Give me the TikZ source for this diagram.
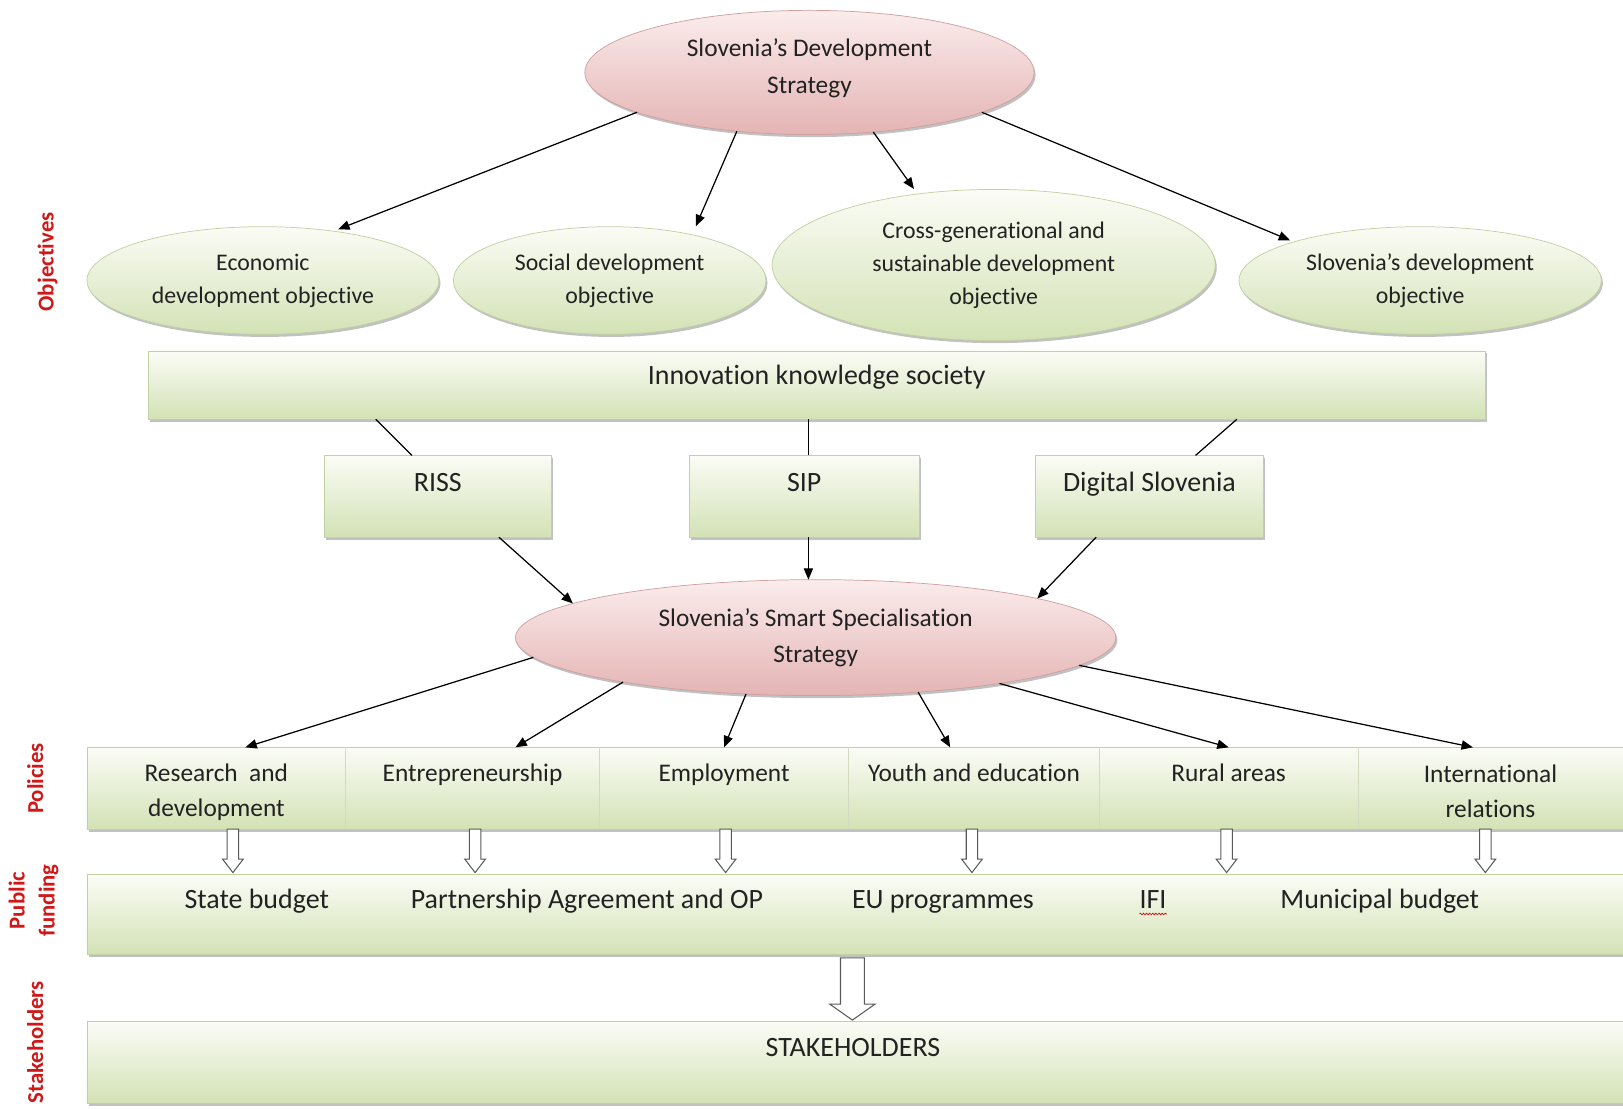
\documentclass[tikz,border=0pt]{standalone}
\usepackage{fontspec}
\setmainfont{Carlito}[Ligatures={NoCommon}]
\usetikzlibrary{calc,shadows,shapes.geometric,arrows.meta,decorations.pathmorphing}
\definecolor{gtop}{HTML}{FBFCF6}
\definecolor{gbot}{HTML}{D3E2B5}
\definecolor{gline}{HTML}{C2D0A2}
\definecolor{gdiv}{HTML}{D2DAC0}
\definecolor{ptop}{HTML}{FBECEC}
\definecolor{pbot}{HTML}{E4B4B4}
\definecolor{pline}{HTML}{CFA0A0}
\definecolor{txtc}{HTML}{222222}
\definecolor{labred}{HTML}{D01818}
\begin{document}
\begin{tikzpicture}[x=1pt,y=-1pt,
  shad/.style={drop shadow={shadow xshift=1.5pt,shadow yshift=-2.5pt,opacity=0.35,fill=black!70}},
  gell/.style={ellipse, draw=gline, line width=0.7pt, top color=gtop, bottom color=gbot, inner sep=0pt, outer sep=0pt, shad, align=center, text=txtc, font=\fontsize{23}{32}\selectfont},
  pell/.style={ellipse, draw=pline, line width=0.7pt, top color=ptop, bottom color=pbot, inner sep=0pt, outer sep=0pt, shad, align=center, text=txtc, font=\fontsize{24.5}{35}\selectfont},
  ptext/.style={inner sep=0pt, align=center, text=txtc, font=\fontsize{24.5}{35}\selectfont},
  gbox/.style={rectangle, draw=gline, line width=0.7pt, top color=gtop, bottom color=gbot, inner sep=0pt, outer sep=0pt, shad},
  cell/.style={rectangle, inner sep=0pt, outer sep=0pt, minimum height=79pt},
  divider/.style={draw=gdiv, line width=0.8pt},
  tmid/.style={inner sep=0pt, align=center, text=txtc, font=\fontsize{24.5}{34}\selectfont},
  tone/.style={tmid, text height=17pt, text depth=6pt},
  tbig/.style={inner sep=0pt, align=center, text=txtc, font=\fontsize{27}{34}\selectfont, text height=19pt, text depth=7pt},
  sidelab/.style={rotate=90, inner sep=0pt, align=center, text=labred, font=\fontsize{22}{29}\selectfont\bfseries},
  conn/.style={-{Triangle[length=11pt,width=9pt]}, line width=1.2pt, black},
  plainline/.style={line width=1.2pt, black},
  blk/.style={draw=black!65, fill=white, line width=1pt, line join=miter},
  pics/smallarr/.style={code={\draw[blk] (-5.5,0) -- (5.5,0) -- (5.5,29) -- (10,29) -- (0,42) -- (-10,29) -- (-5.5,29) -- cycle;}},
  pics/bigarr/.style={code={\draw[blk] (-11.5,0) -- (11.5,0) -- (11.5,44.5) -- (22,44.5) -- (0,60) -- (-22,44.5) -- (-11.5,44.5) -- cycle;}}
]
\useasboundingbox (0,0) rectangle (1568,1071.4);

% side labels
\node[sidelab] (labobj) at (46,253) {Objectives};
\node[sidelab] (labpol) at (34,752) {Policies};
\node[sidelab] (labfund) at (32.5,870) {Public\\funding};
\node[sidelab] (labstake) at (34,1007) {Stakeholders};

% top ellipse and objectives
\node[pell, minimum width=434pt, minimum height=120pt] (T) at (782,70) {};
\node[ptext] (Tt) at ($(T.center)+(0,-4)$) {Slovenia’s Development\\Strategy};
\node[gell, minimum width=340pt, minimum height=104pt] (E1) at (254,271) {Economic\\development objective};
\node[gell, minimum width=302pt, minimum height=104pt] (E2) at (589,271) {Social development\\objective};
\node[gell, minimum width=428pt, minimum height=146pt] (E3) at (960,256) {Cross-generational and\\sustainable development\\objective};
\node[gell, minimum width=350pt, minimum height=104pt] (E4) at (1372,271) {Slovenia’s development\\objective};

\draw[conn, shorten >=5pt] (T.193.3) -- (E1.35);
\draw[conn, shorten >=9pt] (T.219.6) -- (E2.29.3);
\draw[conn, shorten >=6pt] (T.317.7) -- (E3.137.2);
\draw[conn, shorten >=4pt] (T.347.3) -- (E4.163.5);

% innovation box and three strategy boxes
\node[gbox, minimum width=1292pt, minimum height=66pt] (inno) at (789,372) {};
\node[tbig] (innot) at ($(inno.north)+(0,26)$) {Innovation knowledge society};

\node[gbox, minimum width=220pt, minimum height=79pt] (riss) at (423,479.5) {};
\node[tbig] (risst) at ($(riss.north)+(0,29)$) {RISS};
\node[gbox, minimum width=222pt, minimum height=79pt] (sip) at (777,479.5) {};
\node[tbig] (sipt) at ($(sip.north)+(0,29)$) {SIP};
\node[gbox, minimum width=221pt, minimum height=79pt] (dig) at (1110.5,479.5) {};
\node[tbig] (digt) at ($(dig.north)+(0,29)$) {Digital Slovenia};

\draw[plainline] ($(inno.south west)+(220,0)$) -- ($(riss.north)+(-25,0)$);
\draw[plainline] ($(inno.south west)+(638,0)$) -- ($(sip.north)+(4,0)$);
\draw[plainline] ($(inno.south west)+(1052,0)$) -- ($(dig.north)+(44.5,0)$);

% smart specialisation ellipse
\node[pell, minimum width=580pt, minimum height=112pt] (S) at (788,616) {Slovenia’s Smart Specialisation\\Strategy};

\coordinate (sipb) at ($(sip.south)+(4,0)$);
\draw[conn] ($(riss.south)+(59,0)$) -- (S.172.3);
\draw[conn] (sipb) -- (sipb |- S.north);
\draw[conn] ($(dig.south)+(-51.5,0)$) -- (S.10.9);

% policies row
\node[gbox, minimum width=1484pt, minimum height=79pt] (pol) at (826,761.5) {};
\node[cell, minimum width=250pt] (c1) at (209,761.5) {};
\node[cell, minimum width=245pt] (c2) at (456.5,761.5) {};
\node[cell, minimum width=241pt] (c3) at (699.5,761.5) {};
\node[cell, minimum width=242pt] (c4) at (941,761.5) {};
\node[cell, minimum width=250pt] (c5) at (1187,761.5) {};
\node[cell, minimum width=256pt] (c6) at (1440,761.5) {};
\draw[divider] (c1.north east) -- (c1.south east);
\draw[divider] (c2.north east) -- (c2.south east);
\draw[divider] (c3.north east) -- (c3.south east);
\draw[divider] (c4.north east) -- (c4.south east);
\draw[divider] (c5.north east) -- (c5.south east);

\node[tmid] (p1) at ($(c1.north)+(0,43.5)$) {Research~~and\\development};
\node[tone] (p2) at ($(c2.north)+(0,27.5)$) {Entrepreneurship};
\node[tone] (p3) at ($(c3.north)+(0,27.5)$) {Employment};
\node[tone] (p4) at ($(c4.north)+(0,27.5)$) {Youth and education};
\node[tone] (p5) at ($(c5.north)+(0,27.5)$) {Rural areas};
\node[tmid] (p6) at ($(c6.north)+(0,42.5)$) {International\\relations};

\draw[conn] (S.184.7) -- ($(c1.north)+(28,0)$);
\draw[conn] (S.193.6) -- ($(c2.north)+(41.5,0)$);
\draw[conn] (S.219.5) -- (c3.north);
\draw[conn] (S.332.3) -- ($(c4.north)+(-23,0)$);
\draw[conn] (S.346.9) -- (c5.north);
\draw[conn] (S.354.4) -- ($(c6.north)+(-17,0)$);

% public funding
\node[gbox, minimum width=1484pt, minimum height=77pt] (F) at (826,883.5) {};
\node[tbig] (f1) at ($(F.north west)+(164,27)$) {State budget};
\node[tbig] (f2) at ($(F.north west)+(483,27)$) {Partnership Agreement and OP};
\node[tbig] (f3) at ($(F.north west)+(827,27)$) {EU programmes};
\node[tbig] (f4) at ($(F.north west)+(1030,27)$) {IFI};
\node[tbig] (f5) at ($(F.north west)+(1249,27)$) {Municipal budget};
\draw[red!80!black, line width=0.6pt, decorate, decoration={snake, amplitude=0.8pt, segment length=3pt}] ($(f4.base west)+(0,5)$) -- ($(f4.base east)+(0,5)$);

\pic at ($(c1.south)+(16,0)$) {smallarr};
\pic at ($(c2.south)+(2.5,0)$) {smallarr};
\pic at ($(c3.south)+(1.5,0)$) {smallarr};
\pic at ($(c4.south)+(-2,0)$) {smallarr};
\pic at ($(c5.south)+(-2,0)$) {smallarr};
\pic at ($(c6.south)+(-5,0)$) {smallarr};

% stakeholders
\node[gbox, minimum width=1484pt, minimum height=79pt] (K) at (826,1026.5) {};
\node[tbig] (kt) at ($(K.north)+(-2,28)$) {STAKEHOLDERS};
\pic at ($(F.south)+(-2.5,3.5)$) {bigarr};
\end{tikzpicture}
\end{document}
